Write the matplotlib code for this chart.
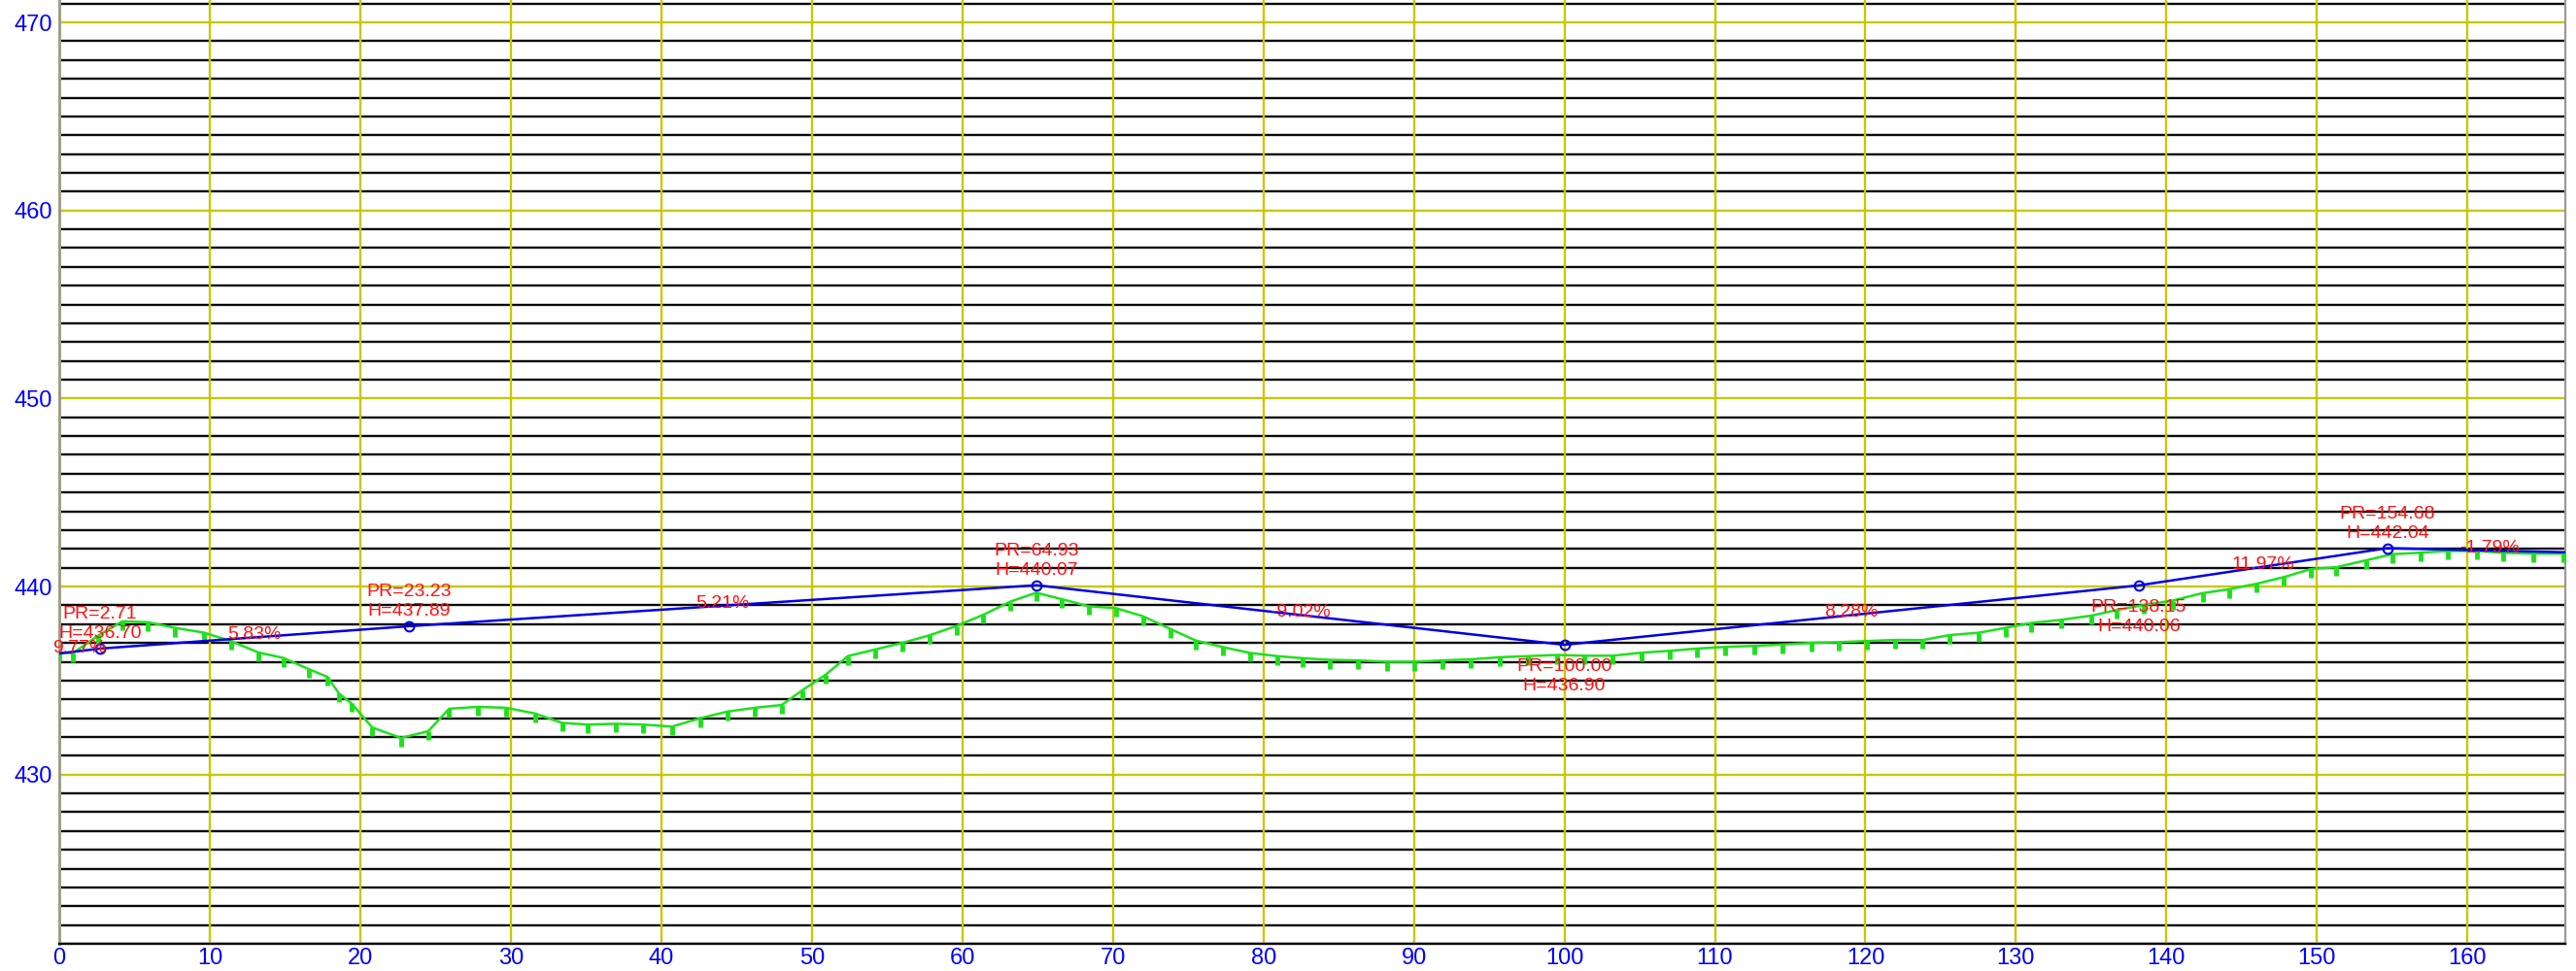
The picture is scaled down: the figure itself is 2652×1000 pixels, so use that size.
import numpy as np
import matplotlib
matplotlib.use("Agg")
import matplotlib.pyplot as plt
from matplotlib.lines import TICKDOWN

plt.rcParams['font.family'] = ['Liberation Sans', 'DejaVu Sans']

# ground profile (green), station vs elevation
ground_x = [0.0, 0.9, 2.6, 4.2, 5.9, 7.7, 9.6, 11.4, 13.2, 14.9, 16.6, 17.8, 18.6,
            19.4, 20.8, 22.7, 24.5, 25.9, 27.8, 29.7, 31.6, 33.4, 35.1, 37.0, 38.8,
            40.7, 42.6, 44.4, 46.2, 48.0, 49.4, 50.9, 52.4, 54.2, 56.0, 57.8, 59.6,
            61.4, 63.2, 64.9, 66.6, 68.4, 70.2, 72.0, 73.8, 75.5, 77.3, 79.1, 80.9,
            82.6, 84.4, 86.3, 88.2, 90.0, 91.9, 93.8, 95.7, 97.6, 99.5, 101.3, 103.2,
            105.1, 107.0, 108.8, 110.7, 112.6, 114.5, 116.4, 118.2, 120.1, 122.0,
            123.8, 125.6, 127.5, 129.3, 131.0, 133.0, 135.0, 136.7, 138.5, 140.4,
            142.4, 144.2, 146.0, 147.8, 149.6, 151.3, 153.3, 155.0, 156.9, 158.7,
            160.6, 162.4, 164.4, 166.4]
ground_h = [436.50, 436.45, 437.40, 438.15, 438.10, 437.80, 437.55, 437.10, 436.50,
            436.20, 435.60, 435.20, 434.30, 433.80, 432.50, 431.95, 432.30, 433.50,
            433.60, 433.55, 433.25, 432.75, 432.66, 432.70, 432.66, 432.55, 433.00,
            433.35, 433.55, 433.70, 434.50, 435.30, 436.30, 436.65, 437.00, 437.40,
            437.90, 438.50, 439.20, 439.67, 439.33, 438.95, 438.85, 438.42, 437.75,
            437.13, 436.78, 436.47, 436.30, 436.19, 436.10, 436.07, 436.00, 436.00,
            436.07, 436.13, 436.24, 436.30, 436.36, 436.32, 436.32, 436.48, 436.58,
            436.70, 436.79, 436.84, 436.92, 437.00, 437.04, 437.10, 437.16, 437.15,
            437.42, 437.54, 437.80, 438.06, 438.23, 438.45, 438.75, 439.02, 439.25,
            439.65, 439.86, 440.15, 440.50, 440.93, 441.03, 441.40, 441.72, 441.80,
            441.89, 441.89, 441.79, 441.75, 441.75]

# design grade line (blue): start, vertices, end
vertex_pr = [2.71, 23.23, 64.93, 100.00, 138.15, 154.68]
vertex_h = [436.70, 437.89, 440.07, 436.90, 440.06, 442.04]
start_pr, start_h = 0.0, 436.44
end_pr, end_h = 168.3, 441.79
grades = [9.77, 5.83, 5.21, -9.02, 8.28, 11.97, -1.79]
label_side = ['above', 'above', 'above', 'below', 'below', 'above']

x_ticks = list(range(0, 161, 10))
y_ticks = [430, 440, 450, 460, 470]

line_pr = [start_pr] + vertex_pr + [end_pr]
line_h = [start_h] + vertex_h + [end_h]

fig = plt.figure(figsize=(26.52, 10), dpi=100)
ax = fig.add_axes([61 / 2652, 28 / 1000, 2580 / 2652, 972 / 1000])
ax.set_xlim(0, 166.5)
ax.set_ylim(421.0, 471.19)

yellow = '#c8c800'
for h in range(421, 472):
    if h % 10 == 0:
        ax.axhline(h, color=yellow, lw=1.7, zorder=1)
    else:
        ax.axhline(h, color='#0a0a0a', lw=1.7, zorder=1)
for s in x_ticks[1:]:
    ax.axvline(s, color=yellow, lw=1.7, zorder=1.5)

# ground
ax.plot(ground_x, ground_h, color='#1ee01e', lw=1.8, zorder=3)
ax.plot(ground_x, ground_h, ls='none', marker=TICKDOWN, ms=6.5, mew=3.5,
        color='#1ee01e', zorder=3)

# design line
ax.plot(line_pr, line_h, color='#0000e6', lw=1.8, zorder=4)
ax.plot(vertex_pr, vertex_h, ls='none', marker='o', ms=7, mfc='none',
        mec='#0000e6', mew=1.5, zorder=5)

red = '#ff1010'
fs = 14
for pr, h, side in zip(vertex_pr, vertex_h, label_side):
    if side == 'above':
        offs = (31, 11)
    else:
        offs = (-27, -47)
    ax.annotate(f'PR={pr:.2f}', (pr, h), xytext=(0, offs[0]), textcoords='offset pixels',
                ha='center', va='baseline', color=red, fontsize=fs, zorder=6)
    ax.annotate(f'H={h:.2f}', (pr, h), xytext=(0, offs[1]), textcoords='offset pixels',
                ha='center', va='baseline', color=red, fontsize=fs, zorder=6)

for i, g in enumerate(grades):
    mx = (line_pr[i] + line_pr[i + 1]) / 2
    my = (line_h[i] + line_h[i + 1]) / 2
    ax.annotate(f'{g:.2f}%', (mx, my), xytext=(0, -2), textcoords='offset pixels',
                ha='center', va='baseline', color=red, fontsize=fs, zorder=6,
                annotation_clip=False)

ax.set_xticks(x_ticks)
ax.set_yticks(y_ticks)
ax.tick_params(length=0, labelsize=17, labelcolor='#0000ff')
ax.tick_params(axis='y', pad=5)
ax.tick_params(axis='x', pad=3)

ax.spines['top'].set_visible(False)
ax.spines['bottom'].set_color('#0a0a0a')
ax.spines['bottom'].set_linewidth(1.7)
ax.spines['left'].set_color('#a0a088')
ax.spines['left'].set_linewidth(2.2)
ax.spines['right'].set_color('#999999')
ax.spines['right'].set_linewidth(1.6)

fig.savefig('out.png', dpi=100, facecolor='white')
